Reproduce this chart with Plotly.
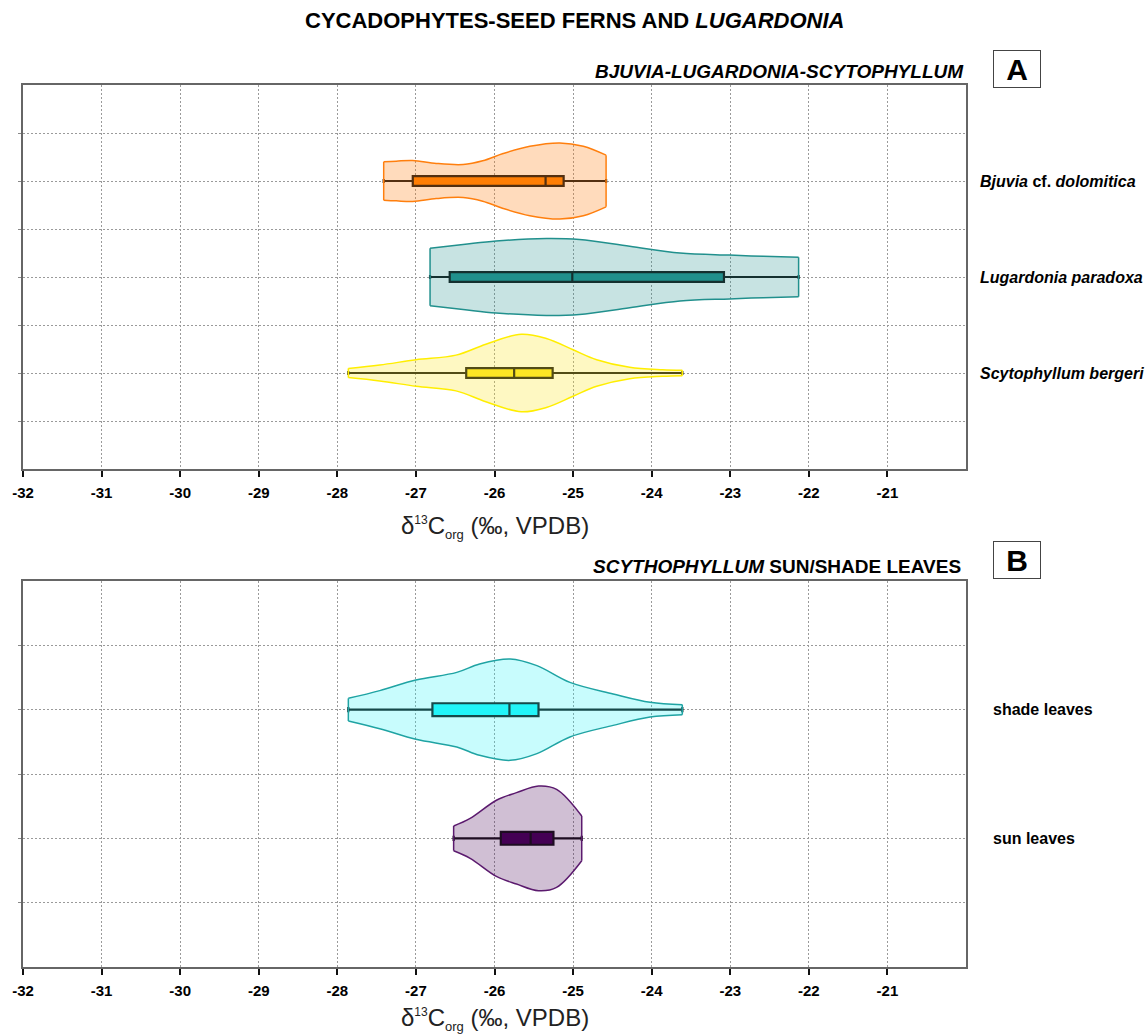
import plotly.graph_objects as go

# ---------------- data ----------------
# Panel A: Bjuvia / Lugardonia / Scytophyllum
a_labels = ["<i>Bjuvia</i> cf. <i>dolomitica</i>", "<i>Lugardonia paradoxa</i>", "<i>Scytophyllum bergeri</i>"]
a_pos = [3, 2, 1]
a_min = [-27.41, -26.82, -27.86]
a_q1 = [-27.04, -26.57, -26.36]
a_med = [-25.35, -25.01, -25.75]
a_q3 = [-25.12, -23.08, -25.26]
a_max = [-24.58, -22.13, -23.61]

# density outlines (x position, half width in category units)
bjuvia_x = [-27.41, -27.25, -27.04, -26.74, -26.40, -26.15, -25.89, -25.55, -25.17, -24.87, -24.58]
bjuvia_w = [0.200, 0.207, 0.214, 0.183, 0.172, 0.210, 0.286, 0.362, 0.397, 0.362, 0.269]
lugard_x = [-26.82, -26.40, -25.98, -25.34, -24.92, -24.28, -23.64, -23.01, -22.58, -22.13]
lugard_w = [0.300, 0.338, 0.375, 0.400, 0.390, 0.320, 0.250, 0.228, 0.215, 0.205]
scyto_x = [-27.86, -27.46, -27.00, -26.49, -26.11, -25.66, -25.34, -25.00, -24.70, -24.28, -23.86, -23.61]
scyto_w = [0.048, 0.083, 0.138, 0.186, 0.300, 0.404, 0.359, 0.242, 0.138, 0.059, 0.034, 0.028]

# Panel B: Scytophyllum sun / shade leaves
b_labels = ["shade leaves", "sun leaves"]
b_pos = [2, 1]
b_min = [-27.86, -26.52]
b_q1 = [-26.79, -25.92]
b_med = [-25.81, -25.54]
b_q3 = [-25.44, -25.25]
b_max = [-23.61, -24.89]

shade_x = [-27.86, -27.46, -27.00, -26.48, -26.19, -25.80, -25.46, -25.04, -24.49, -24.02, -23.61]
shade_w = [0.088, 0.148, 0.230, 0.290, 0.355, 0.394, 0.342, 0.212, 0.122, 0.057, 0.039]
sun_x = [-26.52, -26.31, -25.97, -25.72, -25.44, -25.21, -24.89]
sun_w = [0.096, 0.155, 0.298, 0.355, 0.407, 0.381, 0.174]

x_ticks = list(range(-32, -20))

# ---------------- styles ----------------
a_fill = ["rgba(255,127,14,0.28)", "rgba(33,144,141,0.25)", "rgba(253,231,37,0.28)"]
a_edge = ["#ff7f0e", "#21908d", "#ffee00"]
a_box = ["#ff7f00", "#21908d", "#fde725"]
b_fill = ["rgba(34,245,248,0.25)", "rgba(68,1,84,0.25)"]
b_edge = ["#1fa3a3", "#5b1a6e"]
b_box = ["#22f5f8", "#440154"]

FONT = "Liberation Sans, Arial, sans-serif"

fig = go.Figure()


def add_violin(xs, ws, pos, fill, edge, xa, ya):
    line = dict(color=edge, width=1.5, shape="spline", smoothing=1)
    common = dict(mode="lines", xaxis=xa, yaxis=ya, hoverinfo="skip", showlegend=False)
    # upper and lower density curves, area filled between them
    fig.add_trace(go.Scatter(x=xs, y=[pos + w for w in ws], line=line, **common))
    fig.add_trace(go.Scatter(x=xs, y=[pos - w for w in ws], line=line,
                             fill="tonexty", fillcolor=fill, **common))
    # flat ends of the truncated density
    for xe, we in ((xs[0], ws[0]), (xs[-1], ws[-1])):
        fig.add_trace(go.Scatter(x=[xe, xe], y=[pos - we, pos + we],
                                 line=dict(color=edge, width=1.5), **common))


def add_box(pos, lo, q1, med, q3, hi, color, xa, ya):
    fig.add_trace(go.Box(
        y=[pos], lowerfence=[lo], q1=[q1], median=[med], q3=[q3], upperfence=[hi],
        orientation="h", width=0.1, whiskerwidth=0.4, boxpoints=False,
        fillcolor=color, line=dict(color="#111", width=2.2),
        xaxis=xa, yaxis=ya, showlegend=False, hoverinfo="skip"))


a_profiles = [(bjuvia_x, bjuvia_w), (lugard_x, lugard_w), (scyto_x, scyto_w)]
for i in range(3):
    add_violin(*a_profiles[i], a_pos[i], a_fill[i], a_edge[i], "x", "y")
for i in range(3):
    add_box(a_pos[i], a_min[i], a_q1[i], a_med[i], a_q3[i], a_max[i], a_box[i], "x", "y")

b_profiles = [(shade_x, shade_w), (sun_x, sun_w)]
for i in range(2):
    add_violin(*b_profiles[i], b_pos[i], b_fill[i], b_edge[i], "x2", "y2")
for i in range(2):
    add_box(b_pos[i], b_min[i], b_q1[i], b_med[i], b_q3[i], b_max[i], b_box[i], "x2", "y2")

W, H = 1146, 1034
x_dom = [23 / W, 966 / W]
DOTS = "2px,2px"


def xaxis_cfg(anchor):
    return dict(
        domain=x_dom, anchor=anchor, range=[-32, -20], automargin=False,
        tickvals=x_ticks, ticktext=["<b>%d</b>" % t for t in x_ticks],
        ticks="outside", ticklen=6, tickwidth=2, tickcolor="#111",
        ticklabelstandoff=3,
        tickfont=dict(family=FONT, size=15, color="#000"),
        showgrid=True, gridcolor="#9a9a9a", griddash=DOTS, gridwidth=1,
        showline=True, linecolor="#666", linewidth=2, mirror=True,
        zeroline=False)


def yaxis_cfg(anchor, dom, top):
    vals = [v / 2 for v in range(1, 2 * top)]
    return dict(
        domain=dom, anchor=anchor, range=[0, top], automargin=False,
        tickvals=vals, showticklabels=False,
        ticks="outside", ticklen=3, tickcolor="#888", tickwidth=1,
        showgrid=True, gridcolor="#9a9a9a", griddash=DOTS, gridwidth=1,
        showline=True, linecolor="#666", linewidth=2, mirror=True,
        zeroline=False)


fig.update_layout(
    width=W, height=H, margin=dict(l=0, r=0, t=0, b=0),
    paper_bgcolor="white", plot_bgcolor="white",
    font=dict(family=FONT, color="#000"),
    xaxis=xaxis_cfg("y"),
    yaxis=yaxis_cfg("x", [(H - 469) / H, (H - 85) / H], 4),
    xaxis2=xaxis_cfg("y2"),
    yaxis2=yaxis_cfg("x2", [(H - 967) / H, (H - 581) / H], 3),
    showlegend=False,
)

ann = []
# main title
ann.append(dict(text="<b>CYCADOPHYTES-SEED FERNS AND <i>LUGARDONIA</i></b>",
                x=574 / W, y=1 - 21 / H, xref="paper", yref="paper",
                xanchor="center", yanchor="middle", showarrow=False,
                font=dict(family=FONT, size=22)))
# panel headers
ann.append(dict(text="<b><i>BJUVIA-LUGARDONIA-SCYTOPHYLLUM</i></b>",
                x=966 / W, y=1 - 71 / H, xref="paper", yref="paper",
                xanchor="right", yanchor="middle", showarrow=False,
                font=dict(family=FONT, size=19)))
ann.append(dict(text="<b><i>SCYTHOPHYLLUM</i> SUN/SHADE LEAVES</b>",
                x=963 / W, y=1 - 566 / H, xref="paper", yref="paper",
                xanchor="right", yanchor="middle", showarrow=False,
                font=dict(family=FONT, size=19)))
# panel letters
for letter, yc in (("A", 69), ("B", 560)):
    ann.append(dict(text="<b>" + letter + "</b>", x=1017 / W, y=1 - yc / H,
                    xref="paper", yref="paper", xanchor="center", yanchor="middle",
                    showarrow=False, width=44, height=34,
                    bordercolor="#444", borderwidth=1, borderpad=1,
                    bgcolor="white", font=dict(family=FONT, size=30)))
# category labels
for lab, p in zip(a_labels, a_pos):
    ann.append(dict(text="<b>" + lab + "</b>", x=978 / W, y=p, xref="paper", yref="y",
                    xanchor="left", yanchor="middle", showarrow=False,
                    font=dict(family=FONT, size=16)))
for lab, p in zip(b_labels, b_pos):
    ann.append(dict(text="<b>" + lab + "</b>", x=991 / W, y=p, xref="paper", yref="y2",
                    xanchor="left", yanchor="middle", showarrow=False,
                    font=dict(family=FONT, size=16)))
# axis titles
axis_title = ("δ<sup><span style='font-size:12px'>13</span></sup>C"
              "<sub><span style='font-size:13px'>org</span></sub> (‰, VPDB)")
for yc in (527, 1019):
    ann.append(dict(text=axis_title,
                    x=495 / W, y=1 - yc / H, xref="paper", yref="paper",
                    xanchor="center", yanchor="middle", showarrow=False,
                    font=dict(family=FONT, size=24, color="#222")))

fig.update_layout(annotations=ann)
fig.write_html("out.html")
